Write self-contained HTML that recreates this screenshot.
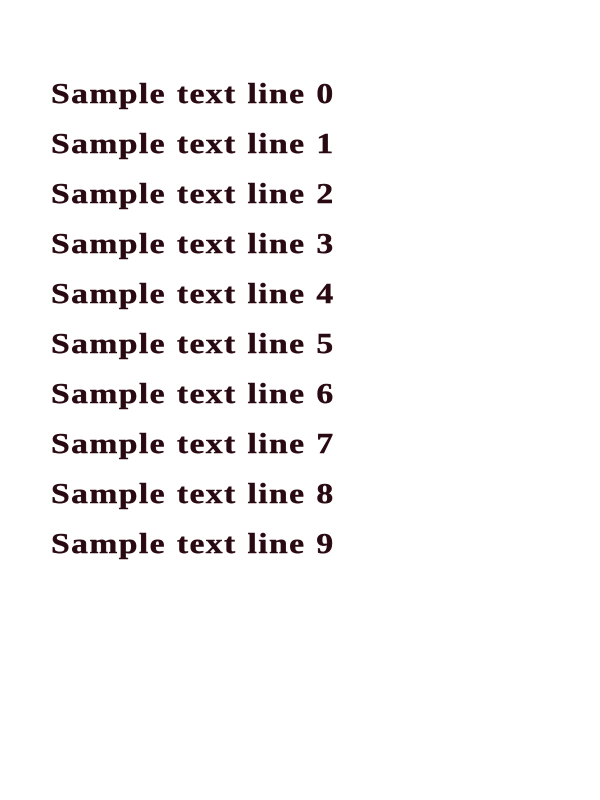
<!DOCTYPE html>
<html><head><style>
html,body{margin:0;padding:0;background:#fff;width:600px;height:800px;overflow:hidden}
.l{position:absolute;left:51px;font-family:"Liberation Serif",serif;font-weight:bold;font-size:29px;color:#2a0a12;line-height:30px;letter-spacing:1.2px;word-spacing:1px;white-space:pre;-webkit-text-stroke:0.4px #2a0a12;transform:scaleX(1.16);transform-origin:0 0}
</style></head><body>
<div class="l" style="top:79px">Sample text line 0</div>
<div class="l" style="top:129px">Sample text line 1</div>
<div class="l" style="top:179px">Sample text line 2</div>
<div class="l" style="top:229px">Sample text line 3</div>
<div class="l" style="top:279px">Sample text line 4</div>
<div class="l" style="top:329px">Sample text line 5</div>
<div class="l" style="top:379px">Sample text line 6</div>
<div class="l" style="top:429px">Sample text line 7</div>
<div class="l" style="top:479px">Sample text line 8</div>
<div class="l" style="top:529px">Sample text line 9</div>
</body></html>
